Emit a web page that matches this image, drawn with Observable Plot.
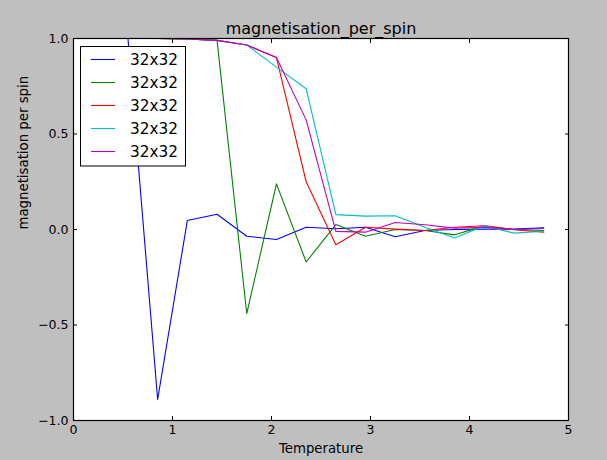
<!DOCTYPE html>
<html>
<head>
<meta charset="utf-8">
<script src="https://cdn.jsdelivr.net/npm/d3@7"></script>
<script src="https://cdn.jsdelivr.net/npm/@observablehq/plot@0.6"></script>
<style>
  html, body { margin: 0; padding: 0; background: #bfbfbf; }
  #chart { width: 607px; height: 460px; }
</style>
</head>
<body>
<div id="chart"></div>
<script>
const temps = [0.25, 0.55, 0.85, 1.15, 1.45, 1.75, 2.05, 2.35, 2.65, 2.95, 3.25, 3.55, 3.85, 4.15, 4.45, 4.75];
const blue    = [1.0, 1.0, -0.89, 0.047, 0.08, -0.035, -0.052, 0.012, 0.004, 0.012, -0.038, -0.005, 0.0, 0.002, 0.002, 0.009];
const green   = [1.0, 1.0, 1.0, 0.997, 0.99, -0.44, 0.239, -0.17, 0.026, -0.035, 0.0, -0.005, -0.028, 0.019, 0.0, -0.005];
const red     = [1.0, 1.0, 1.0, 0.997, 0.99, 0.966, 0.90, 0.25, -0.08, 0.012, 0.002, -0.005, 0.012, 0.02, -0.001, -0.014];
const cyan    = [1.0, 1.0, 1.0, 0.997, 0.99, 0.966, 0.85, 0.737, 0.078, 0.07, 0.072, 0.012, -0.044, 0.019, -0.019, -0.009];
const magenta = [1.0, 1.0, 1.0, 0.997, 0.99, 0.966, 0.90, 0.574, -0.01, -0.014, 0.037, 0.025, 0.007, 0.012, 0.0, 0.005];

const seriesKeys = ["s1", "s2", "s3", "s4", "s5"];
const seriesLabels = ["32x32", "32x32", "32x32", "32x32", "32x32"];
const seriesColors = ["#0000ff", "#008000", "#ff0000", "#00bfbf", "#bf00bf"];
const seriesValues = [blue, green, red, cyan, magenta];

const xTicks = [0, 1, 2, 3, 4, 5];
const yTicks = [-1.0, -0.5, 0.0, 0.5, 1.0];

const titleText = "magnetisation_per_spin";
const xLabel = "Temperature";
const yLabel = "magnetisation per spin";

const rows = [];
seriesKeys.forEach((k, i) => {
  temps.forEach((t, j) => rows.push({series: k, t, m: seriesValues[i][j]}));
});

const fmtY = d3.format(".1f");
const fmtX = d3.format("d");

const chart = Plot.plot({
  width: 607,
  height: 460,
  marginLeft: 73,
  marginRight: 39,
  marginTop: 38,
  marginBottom: 40,
  style: {background: "#bfbfbf", fontFamily: "DejaVu Sans", fontSize: "12px", color: "black"},
  x: {domain: [0, 5]},
  y: {domain: [-1, 1]},
  color: {domain: seriesKeys, range: seriesColors},
  marks: [
    Plot.frame({fill: "white", stroke: null}),
    Plot.line(rows, {x: "t", y: "m", z: "series", stroke: "series", strokeWidth: 1.1, clip: true}),
    Plot.frame({stroke: "black", strokeWidth: 1.2}),
    Plot.axisX({ticks: xTicks, tickSize: -4, tickPadding: 9, tickFormat: fmtX, label: null, fontSize: 12.5}),
    Plot.axisX({ticks: xTicks, anchor: "top", tickSize: -4, tickFormat: () => "", label: null}),
    Plot.axisY({ticks: yTicks, tickSize: -4, tickPadding: 9, tickFormat: fmtY, label: null, fontSize: 12.5}),
    Plot.axisY({ticks: yTicks, anchor: "right", tickSize: -4, tickFormat: () => "", label: null}),
    Plot.text([titleText], {frameAnchor: "top", lineAnchor: "bottom", dy: -5, fontSize: 16}),
    Plot.text([xLabel], {frameAnchor: "bottom", lineAnchor: "top", dy: 23, fontSize: 13.3}),
    Plot.text([yLabel], {frameAnchor: "left", rotate: -90, lineAnchor: "middle", dx: -50, fontSize: 13.3})
  ]
});

// Legend (upper left, inside frame)
const svg = d3.select(chart);
const lg = svg.append("g").attr("class", "legend");
lg.append("rect")
  .attr("x", 80.5).attr("y", 46.5).attr("width", 105).attr("height", 119.5)
  .attr("fill", "white").attr("stroke", "black").attr("stroke-width", 1);
seriesKeys.forEach((k, i) => {
  const yy = 59.5 + i * 23;
  lg.append("line")
    .attr("x1", 91).attr("x2", 115).attr("y1", yy).attr("y2", yy)
    .attr("stroke", seriesColors[i]).attr("stroke-width", 1.1);
  lg.append("text")
    .attr("x", 130).attr("y", yy).attr("dy", "0.35em")
    .attr("text-anchor", "start")
    .attr("font-family", "DejaVu Sans").attr("font-size", 15.3)
    .attr("fill", "black")
    .text(seriesLabels[i]);
});

document.getElementById("chart").appendChild(chart);
</script>
</body>
</html>
